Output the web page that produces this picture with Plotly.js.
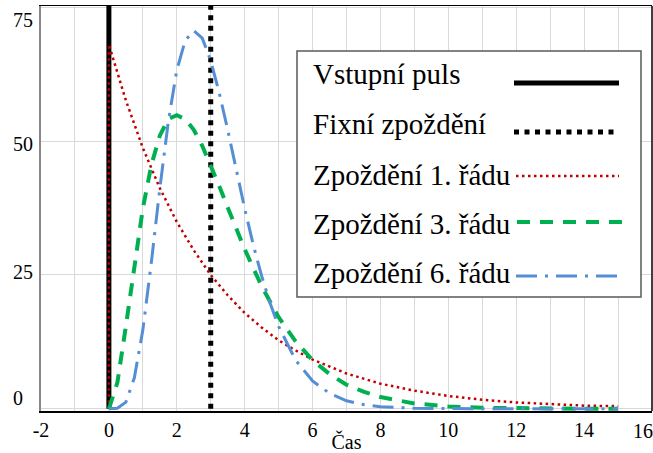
<!DOCTYPE html>
<html>
<head>
<meta charset="utf-8">
<script src="https://cdn.plot.ly/plotly-3.0.1.min.js"></script>
<style>html,body{margin:0;padding:0;background:#fff;}#chart{width:653px;height:453px;}</style>
</head>
<body>
<div id="chart"></div>
<script>
// ---- data ----
const seriesNames = ['Vstupní puls', 'Fixní zpoždění', 'Zpoždění 1. řádu', 'Zpoždění 3. řádu', 'Zpoždění 6. řádu'];

const tPulse = [0, 0];
const yPulse = [0, 80];

const tFixed = [3, 3];
const yFixed = [0, 80];

const t1 = [0, 0, 0.5, 1, 1.5, 2, 2.5, 3, 3.5, 4, 4.5, 5, 5.5, 6, 7, 8, 9, 10, 11, 12, 13, 14, 15];
const y1 = [0, 68, 57.6, 48.7, 41.2, 34.9, 29.6, 25.0, 21.2, 17.9, 15.2, 12.8, 10.9, 9.2, 6.6, 4.7, 3.4, 2.4, 1.7, 1.2, 0.9, 0.6, 0.5];

const t3 = [0, 0.25, 0.5, 0.75, 1, 1.25, 1.5, 1.75, 2, 2.25, 2.5, 2.75, 3, 3.25, 3.5, 3.75, 4, 4.5, 5, 5.5, 6, 6.5, 7, 7.5, 8, 9, 10, 11, 12, 13, 14, 15];
const y3 = [0, 4.9, 15.4, 27.0, 37.4, 45.5, 51.0, 54.1, 54.8, 54.1, 52.1, 49.1, 45.5, 41.6, 37.6, 33.6, 29.8, 22.9, 17.1, 12.6, 9.1, 6.5, 4.5, 3.2, 2.2, 1.0, 0.46, 0.2, 0.09, 0.04, 0.02, 0.01];

const t6 = [0, 0.25, 0.5, 0.75, 1, 1.25, 1.5, 1.75, 2, 2.25, 2.5, 2.75, 3, 3.25, 3.5, 3.75, 4, 4.25, 4.5, 4.75, 5, 5.5, 6, 6.5, 7, 7.5, 8, 9, 10, 11, 12, 13, 14, 15];
const y6 = [0, 0.1, 1.25, 5.8, 14.7, 27.3, 41.1, 53.6, 63.2, 68.8, 70.6, 69.2, 65.0, 59.0, 52.1, 44.6, 37.4, 30.7, 24.8, 19.7, 15.4, 9.1, 5.2, 2.9, 1.5, 0.8, 0.4, 0.1, 0.02, 0, 0, 0, 0, 0];

const xTickVals = [-2, 0, 2, 4, 6, 8, 10, 12, 14];
const xTickText = ['-2', '0', '2', '4', '6', '8', '10', '12', '14'];
const xLastTick = '16';
const yTickVals = [0, 25, 50, 75];
const yTickText = ['0', '25', '50', '75'];
const xTitle = 'Čas';

// ---- styles ----
const FONT = 'Liberation Serif';
const styles = [
  {color: '#000000', width: 5, dash: 'solid'},
  {color: '#000000', width: 5, dash: '5px,5.5px'},
  {color: '#c00000', width: 2.5, dash: '2.5px,3.5px'},
  {color: '#00b050', width: 4, dash: '13px,10px'},
  {color: '#558ed5', width: 3, dash: '21px,8px,3px,8px'}
];
const xs = [tPulse, tFixed, t1, t3, t6];
const ys = [yPulse, yFixed, y1, y3, y6];

const traces = xs.map((x, i) => ({
  type: 'scatter', mode: 'lines', x: x, y: ys[i], name: seriesNames[i],
  line: {color: styles[i].color, width: styles[i].width, dash: styles[i].dash},
  hoverinfo: 'skip'
}));

// plot area in pixels: left 41, right 652, top 6, bottom 411
const L = 41, R = 652, T = 6, B = 411;
const px = v => (v - L) / (R - L);
const py = v => (B - v) / (B - T);

const shapes = [
  {type: 'line', xref: 'paper', yref: 'paper', x0: 1, x1: 1, y0: 0, y1: 1, line: {color: '#000', width: 1.5}},
  {type: 'rect', xref: 'paper', yref: 'paper', x0: px(297), x1: px(641), y0: py(297), y1: py(51),
   fillcolor: '#ffffff', line: {color: '#595959', width: 1.5}, layer: 'above'}
];
const annotations = [];
const rowText = [74, 124, 175, 224, 273];
const rowLine = [83, 132, 176, 222, 276];
const lineX0 = [514, 514, 516, 517, 516];
const lineX1 = [619, 616, 619, 623, 617];
seriesNames.forEach((n, i) => {
  annotations.push({xref: 'paper', yref: 'paper', x: px(311), y: py(rowText[i]), xanchor: 'left', yanchor: 'middle',
    text: n, showarrow: false, font: {family: FONT, size: 29, color: '#000'}});
  shapes.push({type: 'line', xref: 'paper', yref: 'paper', x0: px(lineX0[i]), x1: px(lineX1[i]),
    y0: py(rowLine[i]), y1: py(rowLine[i]), layer: 'above',
    line: {color: styles[i].color, width: styles[i].width, dash: styles[i].dash}});
});
// y tick labels (left aligned in the reference)
const yLabelPos = [2.0, 25.6, 49.4, 72.6];
yTickText.forEach((t, i) => {
  annotations.push({xref: 'paper', yref: 'y', x: px(11), y: yLabelPos[i], xanchor: 'left', yanchor: 'middle',
    text: t, showarrow: false, font: {family: FONT, size: 20, color: '#000'}});
});
// last x tick label, pulled inside the canvas as in the reference
annotations.push({xref: 'paper', yref: 'paper', x: px(643), y: py(431), xanchor: 'center', yanchor: 'middle',
  text: xLastTick, showarrow: false, font: {family: FONT, size: 20, color: '#000'}});

const layout = {
  width: 653, height: 453,
  margin: {l: L, r: 653 - R, t: T, b: 453 - B, pad: 0},
  paper_bgcolor: '#ffffff', plot_bgcolor: '#ffffff',
  showlegend: false,
  font: {family: FONT, size: 20, color: '#000'},
  xaxis: {
    range: [-2, 16], tickmode: 'array', tickvals: xTickVals, ticktext: xTickText,
    showgrid: true, gridcolor: '#d9d9d9', gridwidth: 1,
    minor: {tickmode: 'linear', tick0: -2, dtick: 1, showgrid: true, gridcolor: '#d9d9d9', gridwidth: 1},
    zeroline: false, showline: true, linecolor: '#000', linewidth: 1.5, mirror: true, ticks: '',
    tickfont: {family: FONT, size: 20, color: '#000'},
    title: {text: xTitle, font: {family: FONT, size: 20, color: '#000'}, standoff: 0},
    automargin: false
  },
  yaxis: {
    range: [-0.4, 75.2], tickmode: 'array', tickvals: yTickVals, ticktext: yTickText, showticklabels: false,
    showgrid: true, gridcolor: '#d9d9d9', gridwidth: 1,
    zeroline: false, showline: true, linecolor: '#888', linewidth: 2, ticks: '', automargin: false
  },
  shapes: shapes,
  annotations: annotations
};

Plotly.newPlot('chart', traces, layout, {staticPlot: true, displayModeBar: false});
</script>
</body>
</html>
